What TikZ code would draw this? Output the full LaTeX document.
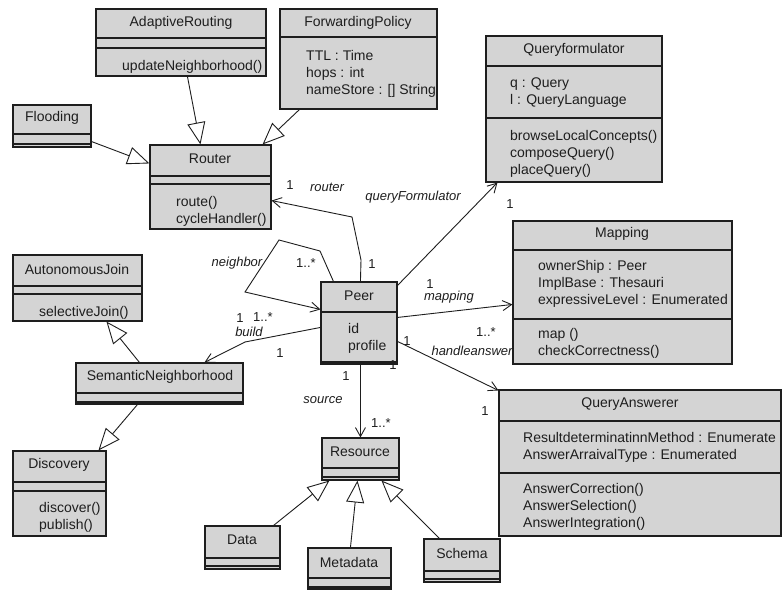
\documentclass[tikz,border=0pt]{standalone}
\usepackage{fontspec}
\setmainfont{Liberation Sans}
\usetikzlibrary{arrows.meta,calc,fit}
\definecolor{boxfill}{RGB}{212,212,212}
\definecolor{ink}{RGB}{30,30,30}
\tikzset{
 cls/.style={draw=ink, fill=boxfill, line width=1.1pt, inner sep=0pt, rectangle},
 sepline/.style={draw=ink, line width=1.1pt},
 cname/.style={font=\fontsize{14}{17}\selectfont, text=ink, inner sep=0pt, anchor=center},
 ctext/.style={font=\fontsize{14}{17}\selectfont, text=ink, inner sep=0pt, anchor=west, align=left},
 lbl/.style={font=\fontsize{13}{15}\selectfont, text=ink, inner sep=0pt},
 rlbl/.style={font=\fontsize{13}{15}\selectfont\itshape, text=ink, inner sep=0pt},
 gen/.style={draw=ink, line width=0.9pt, -{Triangle[open, length=22pt, width=18pt]}},
 assoc/.style={draw=ink, line width=0.9pt, -{Straight Barb[length=9pt, width=10pt]}},
}
\newcommand\umlclass[4]{%
  \node[cls, fit={#2 #3}] (#1) {};
  \foreach \yy in {#4} {\draw[sepline] (#1.west |- 0,\yy) -- (#1.east |- 0,\yy);}
}
\begin{document}
\begin{tikzpicture}[x=1pt,y=-1pt]
\useasboundingbox[fill=white] (0,0) rectangle (782,593);

\umlclass{adaptive}{(96,9)}{(266,76)}{38,48}
\node[cname] (adaptiveN) at (181,23) {AdaptiveRouting};
\node[ctext] (adaptiveO) at (122,67) {updateNeighborhood()};

\umlclass{fwd}{(280,9)}{(437,109)}{37}
\node[cname] (fwdN) at (358,23) {ForwardingPolicy};
\node[ctext] (fwdA) at (306,74) {TTL : Time\\hops : int\\nameStore : [] String};

\umlclass{flood}{(13,105)}{(91,147)}{134,144}
\node[cname] (floodN) at (52,118) {Flooding};

\umlclass{router}{(150,145)}{(271,229)}{176,184}
\node[cname] (routerN) at (210,159) {Router};
\node[ctext] (routerO) at (176,211) {route()\\cycleHandler()};

\umlclass{qf}{(486,36)}{(662,182)}{66,118}
\node[cname] (qfN) at (574,50) {Queryformulator};
\node[ctext] (qfA) at (510,93) {q : Query\\l : QueryLanguage};
\node[ctext] (qfO) at (510,154) {browseLocalConcepts()\\composeQuery()\\placeQuery()};

\umlclass{map}{(513,221)}{(732,364)}{250,319}
\node[cname] (mapN) at (622,234) {Mapping};
\node[ctext] (mapA) at (538,284) {ownerShip : Peer\\ImplBase : Thesauri\\expressiveLevel : Enumerated};
\node[ctext] (mapO) at (538,343) {map ()\\checkCorrectness()};

\umlclass{qa}{(499,390)}{(781,536)}{421,473}
\node[cname] (qaN) at (630,404) {QueryAnswerer};
\node[ctext] (qaA) at (523,447) {ResultdeterminatinnMethod : Enumerate\\AnswerArraivalType : Enumerated};
\node[ctext] (qaO) at (523,507) {AnswerCorrection()\\AnswerSelection()\\AnswerIntegration()};

\umlclass{peer}{(321,282)}{(397,364)}{312,362}
\node[cname] (peerN) at (359,296) {Peer};
\node[ctext] (peerA) at (348,338) {id\\profile};

\umlclass{auto}{(13,255)}{(142,321)}{286,294}
\node[cname] (autoN) at (77,269) {AutonomousJoin};
\node[ctext] (autoO) at (39,313) {selectiveJoin()};

\umlclass{semnb}{(76,363)}{(243,404)}{393,402}
\node[cname] (semnbN) at (160,377) {SemanticNeighborhood};

\umlclass{disc}{(13,451)}{(106,536)}{482,491}
\node[cname] (discN) at (59,465) {Discovery};
\node[ctext] (discO) at (39,517) {discover()\\publish()};

\umlclass{res}{(322,438)}{(399,480)}{468,477}
\node[cname] (resN) at (360,452) {Resource};

\umlclass{data}{(205,526)}{(280,569)}{558,566}
\node[cname] (dataN) at (242,540) {Data};
\umlclass{meta}{(308,548)}{(391,589)}{578,587}
\node[cname] (metaN) at (349,562) {Metadata};
\umlclass{schema}{(424,539)}{(500,582)}{571,579}
\node[cname] (schemaN) at (462,553) {Schema};

% generalizations
\draw[gen] ($(adaptive.south west)+(92,0)$) -- ($(router.north west)+(51,0)$);
\draw[gen] ($(fwd.south west)+(20,0)$) -- ($(router.north east)+(-9,0)$);
\draw[gen] ($(flood.south east)+(0,-6)$) -- ($(router.north west)+(0,19)$);
\draw[gen] ($(semnb.north west)+(64,0)$) -- ($(auto.south west)+(94,0)$);
\draw[gen] ($(semnb.south west)+(62,0)$) -- ($(disc.north west)+(86,0)$);
\draw[gen] ($(data.north east)+(-7,0)$) -- ($(res.south west)+(8,0)$);
\draw[gen] ($(meta.north west)+(43,0)$) -- ($(res.south west)+(36,0)$);
\draw[gen] ($(schema.north west)+(16,0)$) -- ($(res.south west)+(60,0)$);

% associations
\draw[assoc] ($(peer.north west)+(40,0)$) -- (361,260) -- (352,217) -- ($(router.south east)+(0,-29)$);
\draw[assoc] ($(peer.north west)+(13,0)$) -- (320,251) -- (279,240) -- (245,292) -- ($(peer.north west)+(0,28)$);
\draw[assoc] ($(peer.north west)+(0,46)$) -- (245,342) -- ($(semnb.north west)+(129,0)$);
\draw[assoc] ($(peer.north east)+(0,4)$) -- ($(qf.south west)+(12,0)$);
\draw[assoc] ($(peer.north east)+(0,36)$) -- ($(map.north west)+(0,84)$);
\draw[assoc] ($(peer.north east)+(0,60)$) -- ($(qa.north west)+(0,1)$);
\draw[assoc] ($(peer.south west)+(40,0)$) -- ($(res.north west)+(39,0)$);

% labels
\node[lbl] (l1) at (290,185) {1};
\node[rlbl] (lrouter) at (327,187) {router};
\node[lbl] (l2) at (372,264) {1};
\node[rlbl] (lqf) at (413,197) {queryFormulator};
\node[lbl] (l3) at (510,204) {1};
\node[rlbl] (lnb) at (237,263) {neighbor};
\node[lbl] (l4) at (306,263) {1..*};
\node[lbl] (l5) at (240,318) {1};
\node[lbl] (l6) at (263,317) {1..*};
\node[rlbl] (lbuild) at (249,332) {build};
\node[lbl] (l7) at (280,353) {1};
\node[lbl] (l8) at (430,284) {1};
\node[rlbl] (lmap) at (449,297) {mapping};
\node[lbl] (l9) at (486,332) {1..*};
\node[lbl] (l10) at (407,341) {1};
\node[rlbl] (lha) at (472,351) {handleanswer};
\node[lbl] (l11) at (393,365) {1};
\node[lbl] (l12) at (485,411) {1};
\node[lbl] (l13) at (346,376) {1};
\node[rlbl] (lsrc) at (323,400) {source};
\node[lbl] (l14) at (381,423) {1..*};
\end{tikzpicture}
\end{document}
